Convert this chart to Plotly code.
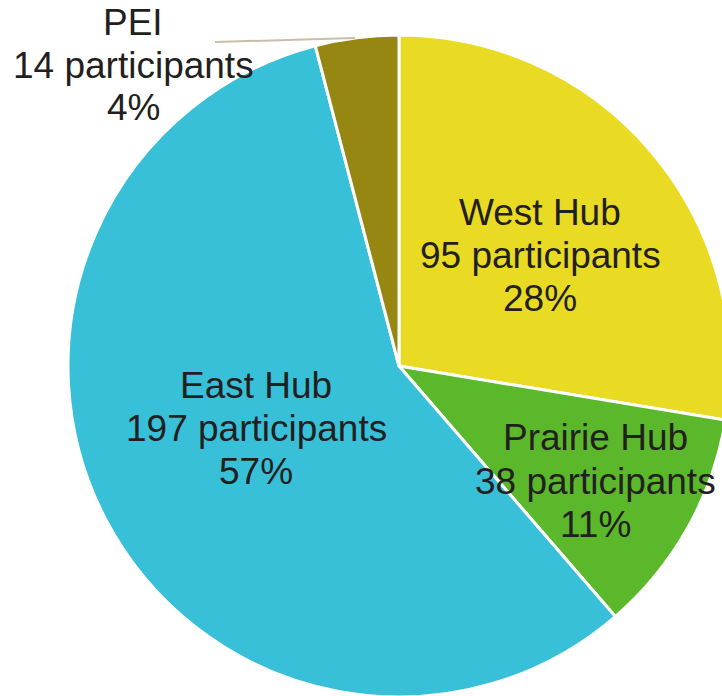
import plotly.graph_objects as go

regions = ["West Hub", "Prairie Hub", "East Hub", "PEI"]
participants = [95, 38, 197, 14]
colors = ["#E9DA23", "#5BB82B", "#37C0D8", "#958711"]

# label anchor positions (pixels, from top-left) for each region's text block
label_x = [540, 595, 256, 133]
label_y = [255, 481, 428, 65]

W, H = 740, 700
cx, cy, r = 399, 366, 331

total = sum(participants)

fig = go.Figure(go.Pie(
    labels=regions,
    values=participants,
    sort=False,
    direction="clockwise",
    rotation=0,
    marker=dict(colors=colors, line=dict(color="white", width=3)),
    textinfo="none",
    hoverinfo="label+value+percent",
    showlegend=False,
    domain=dict(x=[(cx - r) / W, (cx + r) / W], y=[(H - cy - r) / H, (H - cy + r) / H]),
))

annotations = []
spacing = 43
for name, n, lx, ly in zip(regions, participants, label_x, label_y):
    lines = [name, f"{n} participants", f"{round(100 * n / total)}%"]
    for i, t in enumerate(lines):
        annotations.append(dict(
            x=lx / W, y=1 - (ly + (i - 1) * spacing) / H,
            xref="paper", yref="paper", text=t, showarrow=False,
            xanchor="center", yanchor="middle",
            font=dict(family="Arial, Liberation Sans, sans-serif", size=37, color="#231F20"),
        ))

fig.update_layout(
    width=W, height=H,
    margin=dict(l=0, r=0, t=0, b=0),
    paper_bgcolor="white",
    plot_bgcolor="white",
    annotations=annotations,
    shapes=[dict(type="line", xref="paper", yref="paper",
                 x0=215 / W, y0=1 - 42 / H, x1=355 / W, y1=1 - 38 / H,
                 line=dict(color="#C9BDA8", width=2))],
)

fig.write_html("out.html", config={"displayModeBar": False},
               post_script="document.body.style.margin='0';document.body.style.overflow='hidden';")
